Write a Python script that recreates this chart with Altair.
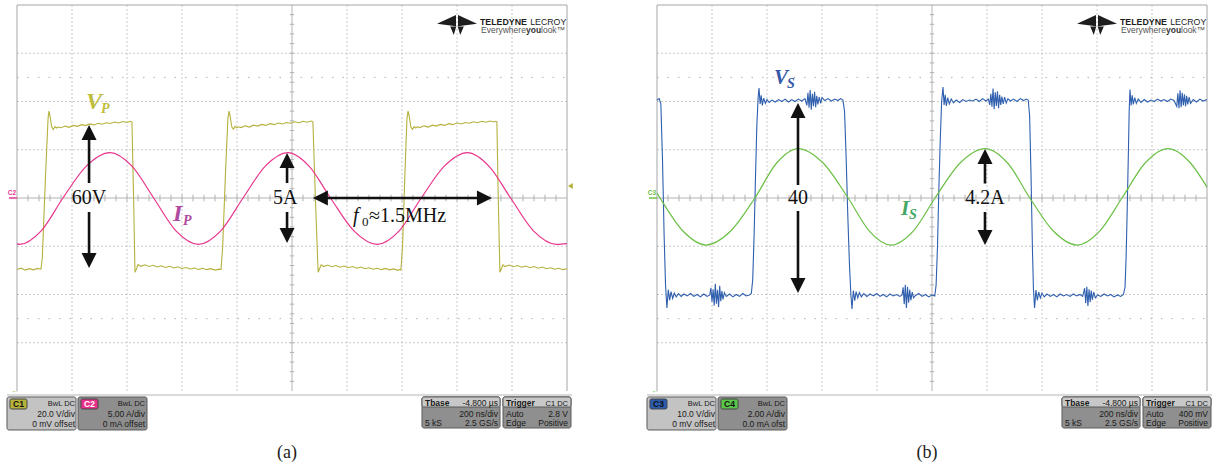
import altair as alt
import pandas as pd

# ---------------- waveform samples read from the two scope screens ----------------
# panel (a): time in ns from the left edge of the screen, V_P in volts
VP = [(0, -29.6), (15, -29.1), (30, -29.9), (45, -29.3), (60, -29.8), (75, -29.2), (87, -29.5),
      (92, -25), (104, 10), (113, 33), (116, 36), (120, 34), (126, 29.5), (132, 28.4), (138, 29.6),
      (144, 29.0), (150, 29.4),
      (160, 29.1), (175, 29.8), (190, 29.3), (205, 30.1), (220, 29.7), (235, 30.4), (250, 30.0),
      (265, 30.7), (280, 30.3), (295, 31.0), (310, 30.6), (325, 31.2), (340, 30.9), (355, 31.5),
      (370, 31.1), (385, 31.7), (400, 31.3), (412, 31.8),
      (418, 31.5), (424, 0), (429, -30.8), (434, -29.5), (440, -27.6),
      (450, -28.3), (465, -27.7), (480, -28.4), (495, -27.9), (510, -28.6), (525, -28.1),
      (540, -28.8), (555, -28.3), (570, -29.0), (585, -28.5), (600, -29.2), (615, -28.8),
      (630, -29.4), (645, -29.0), (660, -29.6), (675, -29.1), (690, -29.7), (705, -29.3),
      (720, -29.9), (735, -29.5),
      (742, -29.6), (748, -20), (758, 10), (767, 33), (771, 36), (775, 34), (781, 29.5),
      (787, 28.5), (793, 29.7), (799, 29.1), (805, 29.5),
      (815, 29.2), (830, 29.9), (845, 29.4), (860, 30.2), (875, 29.8), (890, 30.5), (905, 30.1),
      (920, 30.8), (935, 30.4), (950, 31.1), (965, 30.7), (980, 31.3), (995, 31.0), (1010, 31.6),
      (1025, 31.2), (1040, 31.8), (1055, 31.4), (1070, 31.9),
      (1076, 31.6), (1085, 0), (1095, -30.8), (1100, -29.4), (1106, -27.7),
      (1115, -28.4), (1130, -27.8), (1145, -28.5), (1160, -28.0), (1175, -28.7), (1190, -28.2),
      (1205, -28.9), (1220, -28.4), (1235, -29.1), (1250, -28.6), (1265, -29.3), (1280, -28.9),
      (1295, -29.5), (1310, -29.1), (1325, -29.7), (1340, -29.2), (1355, -29.8), (1370, -29.4),
      (1385, -30.0), (1392, -29.6),
      (1396, -29.8), (1402, -20), (1410, 8), (1418, 33), (1422, 36), (1426, 34), (1432, 29.5),
      (1438, 28.4), (1444, 29.6), (1450, 29.0), (1456, 29.5),
      (1465, 29.2), (1480, 29.9), (1495, 29.4), (1510, 30.2), (1525, 29.8), (1540, 30.5),
      (1555, 30.1), (1570, 30.8), (1585, 30.4), (1600, 31.1), (1615, 30.7), (1630, 31.3),
      (1645, 31.0), (1660, 31.6), (1675, 31.2), (1690, 31.8), (1705, 31.4), (1720, 31.9),
      (1735, 31.5), (1740, 31.8),
      (1745, 31.6), (1750, 0), (1756, -30.8), (1761, -29.4), (1767, -27.7),
      (1775, -28.4), (1790, -27.8), (1805, -28.5), (1820, -28.0), (1835, -28.7), (1850, -28.2),
      (1865, -28.9), (1880, -28.4), (1895, -29.1), (1910, -28.6), (1925, -29.3), (1940, -28.9),
      (1955, -29.5), (1970, -29.1), (1985, -29.7), (2000, -29.3)]

# panel (a): I_P in amperes
IP = [(0, -4.75), (10, -4.8), (88, -3.4), (167, 0), (252, 3.3), (338, 4.7), (418, 3.3), (497, 0),
      (578, -3.4), (660, -4.8), (741, -3.4), (822, 0), (903, 3.3), (985, 4.7), (1062, 3.3),
      (1140, 0), (1225, -3.4), (1310, -4.8), (1390, -3.4), (1470, 0), (1554, 3.3), (1638, 4.7),
      (1716, 3.3), (1795, 0), (1878, -3.4), (1962, -4.8), (2000, -4.72)]

# panel (b): V_S in volts
VS = [(0, 20.3), (8, 20.6), (14, 19.5), (20, 8), (26, -8), (31, -18), (36, -22.8), (41, -19.0),
      (46, -21.2), (51, -19.4), (57, -20.8), (63, -19.7), (70, -20.5), (78, -19.8), (88, -20.4),
      (98, -19.9), (110, -20.3), (122, -19.8), (134, -20.4), (146, -20.0), (158, -20.5),
      (170, -19.9), (182, -20.4), (192, -20.1),
      (196, -18.6), (200, -21.5), (204, -18.9), (208, -22.3), (212, -17.8), (216, -21.9),
      (220, -19.0), (224, -22.6), (228, -18.2), (232, -21.4), (236, -19.3), (240, -21.0),
      (245, -19.6),
      (252, -20.4), (264, -19.9), (276, -20.5), (288, -20.0), (300, -20.4), (312, -19.8),
      (324, -20.3), (336, -20.1), (343, -19.8),
      (348, -17), (353, -8), (358, 4), (363, 15), (368, 21), (371, 22.8), (375, 19.5), (379, 21.3),
      (383, 19.2), (388, 20.7), (394, 19.6), (400, 20.4), (408, 19.8), (418, 20.3), (430, 19.9),
      (442, 20.4), (454, 20.0), (466, 20.5), (478, 19.9), (490, 20.4), (502, 20.0), (514, 20.5),
      (526, 20.1), (538, 20.6),
      (545, 19.2), (549, 21.8), (553, 18.7), (557, 22.4), (561, 18.3), (565, 21.6), (569, 19.0),
      (573, 22.0), (577, 18.8), (581, 21.2), (585, 19.4), (590, 20.9), (595, 19.6), (600, 20.8),
      (610, 20.2), (622, 20.6), (634, 20.1), (646, 20.5), (658, 20.2), (668, 20.6), (676, 20.3),
      (682, 18), (688, 8), (694, -4), (700, -14), (705, -20), (709, -23), (714, -19.2),
      (719, -21.3), (724, -19.4), (730, -20.7), (736, -19.6), (743, -20.5), (752, -19.8),
      (763, -20.4), (775, -19.9), (787, -20.3), (799, -19.8), (811, -20.4), (823, -20.0),
      (835, -20.5), (847, -19.9), (859, -20.3), (871, -20.0), (883, -20.4), (891, -20.1),
      (895, -18.5), (899, -22.0), (903, -18.0), (907, -22.8), (911, -18.4), (915, -21.7),
      (919, -19.0), (923, -21.2), (928, -19.5), (933, -20.7),
      (940, -20.2), (952, -19.8), (964, -20.4), (976, -20.0), (988, -20.5), (1000, -20.1),
      (1010, -20.3),
      (1015, -18), (1020, -10), (1025, 2), (1030, 12), (1035, 20), (1040, 23), (1044, 19.3),
      (1048, 21.4), (1052, 19.1), (1057, 20.8), (1063, 19.5), (1070, 20.5), (1078, 19.7),
      (1088, 20.3), (1100, 19.8), (1112, 20.4), (1124, 20.0), (1136, 20.3), (1148, 20.1),
      (1160, 20.5), (1172, 20.0), (1184, 20.6), (1196, 20.1), (1205, 20.5),
      (1210, 19.3), (1214, 21.6), (1218, 18.9), (1222, 22.7), (1226, 18.4), (1230, 21.9),
      (1234, 19.1), (1238, 22.1), (1242, 18.6), (1246, 21.4), (1250, 19.3), (1254, 21.0),
      (1259, 19.5), (1264, 20.9), (1270, 19.7), (1276, 20.6),
      (1285, 20.1), (1297, 20.5), (1309, 20.0), (1321, 20.6), (1333, 20.2), (1343, 20.5),
      (1350, 20.3),
      (1355, 17), (1360, 5), (1365, -10), (1369, -19), (1373, -22.8), (1378, -19.1), (1383, -21.2),
      (1388, -19.5), (1394, -20.7), (1400, -19.7), (1408, -20.5), (1418, -19.9), (1430, -20.4),
      (1442, -20.0), (1454, -20.5), (1466, -19.9), (1478, -20.3), (1490, -20.0), (1502, -20.4),
      (1514, -19.9), (1526, -20.3), (1538, -20.0), (1548, -20.4),
      (1555, -18.7), (1559, -21.8), (1563, -18.4), (1567, -22.4), (1571, -18.9), (1575, -21.6),
      (1579, -19.2), (1583, -21.1), (1588, -19.5), (1594, -20.7),
      (1602, -20.1), (1614, -20.4), (1626, -19.9), (1638, -20.3), (1650, -20.0), (1662, -20.5),
      (1674, -20.1), (1686, -20.4), (1696, -20.0),
      (1702, -18.5), (1706, -12), (1710, -2), (1714, 9), (1717, 18), (1720, 22.5), (1724, 19.2),
      (1728, 21.3), (1732, 19.4), (1737, 20.8), (1743, 19.6), (1750, 20.5), (1760, 19.8),
      (1772, 20.4), (1784, 19.9), (1796, 20.3), (1808, 20.0), (1820, 20.5), (1832, 20.1),
      (1844, 20.4), (1856, 20.0), (1868, 20.5), (1880, 20.2),
      (1890, 19.0), (1894, 21.7), (1898, 18.6), (1902, 22.3), (1906, 18.8), (1910, 21.8),
      (1914, 19.2), (1918, 21.5), (1922, 19.0), (1926, 21.2), (1930, 19.4), (1935, 20.9),
      (1940, 19.6),
      (1950, 20.4), (1962, 19.9), (1974, 20.5), (1986, 20.1), (2000, 20.4)]

# panel (b): I_S in amperes
IS = [(0, 0.2), (11, 0), (95, -1.38), (178, -1.95), (267, -1.38), (356, 0), (435, 1.45),
      (513, 2.05), (604, 1.45), (695, 0), (773, -1.38), (851, -1.95), (931, -1.38), (1011, 0),
      (1102, 1.45), (1193, 2.05), (1275, 1.45), (1356, 0), (1442, -1.38), (1527, -1.95),
      (1609, -1.38), (1691, 0), (1775, 1.45), (1858, 2.05), (1940, 1.45), (2000, 0.45)]

# vertical sensitivities (per division) and the scope readouts
VDIV_A, IDIV_A = 20.0, 5.0
VDIV_B, IDIV_B = 10.0, 2.0
CH_A = [("C1", "BwL DC", "20.0 V/div", "0 mV offset"), ("C2", "BwL DC", "5.00 A/div", "0 mA offset")]
CH_B = [("C3", "BwL DC", "10.0 V/div", "0 mV offset"), ("C4", "BwL DC", "2.00 A/div", "0.0 mA ofst")]
TBASE = ["Tbase", "-4.800 µs", "200 ns/div", "5 kS", "2.5 GS/s"]
TRIG_A = ["Trigger", "C1 DC", "Auto", "2.8 V", "Edge", "Positive"]
TRIG_B = ["Trigger", "C1 DC", "Auto", "400 mV", "Edge", "Positive"]

# colours
C_VP, C_IP, C_VS, C_IS = "#b5b13c", "#e8358d", "#2f5fae", "#6cc046"
L_VP, L_IP, L_VS, L_IS = "#bfbd3d", "#b04aa0", "#3558a8", "#45a863"

# ---------------- layout (shared scales: ns horizontally, divisions vertically) ----------------
W, H = 1214, 469
NS_PER_PX = 200 / 55
PX_PER_DIV = 48.25
X_DOM = [-17 * NS_PER_PX, (W - 17) * NS_PER_PX]
Y_DOM = [(198 - H) / PX_PER_DIV, 198 / PX_PER_DIV]
B_OFF = 640 * NS_PER_PX  # screen (b) sits to the right of screen (a)

XS = alt.Scale(domain=X_DOM, nice=False, zero=False)
YS = alt.Scale(domain=Y_DOM, nice=False, zero=False)
SERIF = "Liberation Serif"
SANS = "Liberation Sans"


def X(f="t"):
    return alt.X(f, type="quantitative", scale=XS, axis=None)


def Y(f="y"):
    return alt.Y(f, type="quantitative", scale=YS, axis=None)


def rules(rows, color, width=1.0, dash=None):
    df = pd.DataFrame(rows, columns=["t", "y", "t2", "y2"])
    kw = dict(color=color, strokeWidth=width)
    if dash:
        kw["strokeDash"] = dash
    return alt.Chart(df).mark_rule(**kw).encode(x=X("t"), y=Y("y"), x2=alt.X2("t2"), y2=alt.Y2("y2"))


def rects(rows, stroke="#5a5a5a", radius=2):
    df = pd.DataFrame(rows, columns=["t", "t2", "y", "y2", "fill"])
    return alt.Chart(df).mark_rect(stroke=stroke, strokeWidth=1, cornerRadius=radius).encode(
        x=X("t"), x2=alt.X2("t2"), y=Y("y"), y2=alt.Y2("y2"),
        fill=alt.Fill("fill:N", scale=None, legend=None))


def texts(rows, size, color, font=SANS, weight="normal", style="normal", align="left",
          baseline="alphabetic"):
    df = pd.DataFrame(rows, columns=["t", "y", "text"])
    return alt.Chart(df).mark_text(fontSize=size, color=color, font=font, fontWeight=weight,
                                   fontStyle=style, align=align, baseline=baseline).encode(
        x=X(), y=Y(), text="text:N")


def points(rows, shape, size, color):
    df = pd.DataFrame(rows, columns=["t", "y"])
    return alt.Chart(df).mark_point(shape=shape, size=size, filled=True, color=color, opacity=1,
                                    strokeWidth=0).encode(x=X(), y=Y())


def trace(pairs, per_div, off, color, interp="linear", width=1.1):
    df = pd.DataFrame(pairs, columns=["t", "v"])
    df["t"] = df["t"] + off
    df["y"] = df["v"] / per_div
    return alt.Chart(df).mark_line(color=color, strokeWidth=width, interpolate=interp).encode(
        x=X(), y=Y())


layers = []

# ---------------- graticule ----------------
g_dash, g_solid, g_sparse, g_border, g_ticks, divider = [], [], [], [], [], []
for off in (0, B_OFF):
    for k in range(1, 10):
        if k != 5:
            g_dash.append((off + 200 * k, -4, off + 200 * k, 4))
    for j in (-3, -2, -1, 1, 2, 3):
        g_dash.append((off, j, off + 2000, j))
    g_sparse += [(off, 2.5, off + 2000, 2.5), (off, -2.5, off + 2000, -2.5)]
    g_solid += [(off + 1000, -4, off + 1000, 4), (off, 0, off + 2000, 0)]
    g_border += [(off, -4, off, 4), (off + 2000, -4, off + 2000, 4), (off, 4, off + 2000, 4)]
    for k in range(1, 50):
        g_ticks.append((off + 40 * k, -0.07, off + 40 * k, 0.07))
    for j in range(-19, 20):
        if j != 0:
            g_ticks.append((off + 1000 - 8, j * 0.2, off + 1000 + 8, j * 0.2))
    divider.append((off - 36.4, -4.083, off + 2018, -4.083))

layers += [
    rules(g_dash, "#c9c9c9", 1, [2, 2]),
    rules(g_sparse, "#b0b0b0", 1, [1.5, 9]),
    rules(g_solid, "#b3b3b3", 1),
    rules(g_ticks, "#b3b3b3", 1),
    rules(g_border, "#a6a6a6", 1),
    rules(divider, "#b5b5b5", 1),
]

# ---------------- readout boxes ----------------
box_rows, badge_rows = [], []
txt_right_small, txt_right, txt_left, txt_bold_left, badge_txt_dark, badge_txt_light = [], [], [], [], [], []
for off, chans, trig, badge_cols, txt_cols in (
        (0, CH_A, TRIG_A, ["#b7b23a", "#e8308a"], ["#111111", "#ffffff"]),
        (B_OFF, CH_B, TRIG_B, ["#2c5cae", "#5cc84a"], ["#0d1530", "#111111"])):
    box_rows += [(off - 36.4, off + 214.5, -4.124, -4.808, "#c3c3c3"),
                 (off + 221.8, off + 472.7, -4.124, -4.808, "#8e8e8e"),
                 (off + 1472.7, off + 1756.4, -4.124, -4.767, "#8f8f8f"),
                 (off + 1767.3, off + 2014.5, -4.124, -4.767, "#8f8f8f"),
                 (off + 1472.7, off + 1756.4, -4.124, -4.332, "#c8c8c8"),
                 (off + 1767.3, off + 2014.5, -4.124, -4.332, "#c8c8c8")]
    for (name, bw, sens, offs), x0, right, col, tcol in zip(
            chans, (-25.5, 232.7), (210.9, 465.5), badge_cols, txt_cols):
        badge_rows.append((off + x0, off + x0 + 61.9, -4.166, -4.373, col))
        row = (off + x0 + 30.9, -4.27, name)
        (badge_txt_light if tcol == "#ffffff" else badge_txt_dark).append(row)
        txt_right_small.append((off + right, -4.311, bw))
        txt_right += [(off + right, -4.539, sens), (off + right, -4.746, offs)]
    txt_bold_left += [(off + 1483.6, -4.311, TBASE[0]), (off + 1778.2, -4.311, trig[0])]
    txt_right += [(off + 1749.1, -4.311, TBASE[1]), (off + 1749.1, -4.539, TBASE[2]),
                  (off + 1749.1, -4.725, TBASE[4]), (off + 2003.6, -4.539, trig[3]),
                  (off + 2003.6, -4.725, trig[5])]
    txt_right_small.append((off + 2003.6, -4.311, trig[1]))
    txt_left += [(off + 1483.6, -4.725, TBASE[3]), (off + 1778.2, -4.539, trig[2]),
                 (off + 1778.2, -4.725, trig[4])]

layers += [
    rects(box_rows),
    rects(badge_rows, stroke="#444444", radius=1.5),
    texts(badge_txt_dark, 8.5, "#111111", weight="bold", align="center", baseline="middle"),
    texts(badge_txt_light, 8.5, "#ffffff", weight="bold", align="center", baseline="middle"),
    texts(txt_right_small, 7.5, "#1a1a1a", align="right"),
    texts(txt_right, 8.5, "#1a1a1a", align="right"),
    texts(txt_left, 8.5, "#1a1a1a", align="left"),
    texts(txt_bold_left, 8.5, "#1a1a1a", weight="bold", align="left"),
]

# ---------------- logo ----------------
LOGO = ("M-1,-0.06L-0.05,-0.5L-0.05,0.06Z"
        "M1,-0.06L0.05,-0.5L0.05,0.06Z"
        "M-0.34,0.08L-0.04,0.08L-0.16,0.5Z"
        "M0.34,0.08L0.04,0.08L0.16,0.5Z")
logo_pts, logo_bold, logo_reg, logo_s1, logo_s2, logo_s3 = [], [], [], [], [], []
for off in (0, B_OFF):
    logo_pts.append((off + 1600, 3.585))
    logo_bold.append((off + 1683.6, 3.585, "TELEDYNE"))
    logo_reg.append((off + 1866, 3.585, "LECROY"))
    logo_s1.append((off + 1687.3, 3.42, "Everywhere"))
    logo_s2.append((off + 1850.9, 3.42, "you"))
    logo_s3.append((off + 1905.5, 3.42, "look™"))
layers += [
    points(logo_pts, LOGO, 1600, "#1e1e1e"),
    texts(logo_bold, 8.8, "#1e1e1e", weight="bold", align="left"),
    texts(logo_reg, 8.8, "#1e1e1e", align="left"),
    texts(logo_s1, 8.5, "#555555", align="left"),
    texts(logo_s2, 8.5, "#333333", weight="bold", align="left"),
    texts(logo_s3, 8.5, "#555555", align="left"),
]

# ---------------- channel markers ----------------
layers += [
    rules([(-29.1, 0, 0, 0)], C_IP, 1.5),
    rules([(B_OFF - 29.1, 0, B_OFF, 0)], C_IS, 1.5),
    texts([(-3.6, 0.07, "C2")], 6.5, C_IP, weight="bold", align="right"),
    texts([(B_OFF - 3.6, 0.07, "C3")], 6.5, C_IS, weight="bold", align="right"),
    points([(2003.6, 0.249)], "M0,0L1.6,-1L1.6,1Z", 36, C_VP),
    texts([(-7.3, -4.0, "←")], 8, C_VP, align="center", baseline="middle"),
    texts([(B_OFF - 7.3, -4.0, "←")], 8, C_IS, align="center", baseline="middle"),
]

# ---------------- waveforms ----------------
layers += [
    trace(VP, VDIV_A, 0, C_VP, width=1.1),
    trace(IP, IDIV_A, 0, C_IP, interp="monotone", width=1.2),
    trace(VS, VDIV_B, B_OFF, C_VS, width=1.1),
    trace(IS, IDIV_B, B_OFF, C_IS, interp="monotone", width=1.2),
]

# ---------------- annotations ----------------
UP, DOWN = "M0,0L-1,2L1,2Z", "M0,0L-1,-2L1,-2Z"
LEFT, RIGHT = "M0,0L2,-1L2,1Z", "M0,0L-2,-1L-2,1Z"
shafts = [(262, 1.36, 262, 0.311), (262, -0.29, 262, -1.30),
          (982, 0.78, 982, 0.311), (982, -0.29, 982, -0.78),
          (1116, 0, 1687, 0),
          (B_OFF + 512.7, 1.82, B_OFF + 512.7, 0.269), (B_OFF + 512.7, -0.269, B_OFF + 512.7, -1.82),
          (B_OFF + 1192.7, 0.86, B_OFF + 1192.7, 0.30), (B_OFF + 1192.7, -0.29, B_OFF + 1192.7, -0.82)]
heads_up = [(262, 1.513), (982, 0.933), (B_OFF + 512.7, 1.969), (B_OFF + 1192.7, 1.016)]
heads_down = [(262, -1.451), (982, -0.933), (B_OFF + 512.7, -1.969), (B_OFF + 1192.7, -0.974)]
layers += [
    rules(shafts, "#111111", 2.6),
    points(heads_up, UP, 225, "#111111"),
    points(heads_down, DOWN, 225, "#111111"),
    points([(1076, 0)], LEFT, 225, "#111111"),
    points([(1727, 0)], RIGHT, 225, "#111111"),
    texts([(262, 0, "60V"), (975, 0, "5A"), (B_OFF + 512.7, 0, "40"), (B_OFF + 1192.7, 0, "4.2A")],
          20, "#111111", font=SERIF, align="center", baseline="middle"),
    texts([(1221.8, -0.497, "f")], 20, "#111111", font=SERIF, style="italic"),
    texts([(1254.5, -0.58, "0")], 13, "#111111", font=SERIF),
    texts([(1280, -0.497, "≈1.5MHz")], 20, "#111111", font=SERIF),
    texts([(251, 1.845, "V")], 24, L_VP, font=SERIF, weight="bold", style="italic"),
    texts([(305, 1.762, "P")], 14, L_VP, font=SERIF, weight="bold", style="italic"),
    texts([(567.3, -0.477, "I")], 24, L_IP, font=SERIF, weight="bold", style="italic"),
    texts([(603.6, -0.56, "P")], 14, L_IP, font=SERIF, weight="bold", style="italic"),
    texts([(B_OFF + 425.5, 2.363, "V")], 21, L_VS, font=SERIF, weight="bold", style="italic"),
    texts([(B_OFF + 472.7, 2.28, "S")], 14, L_VS, font=SERIF, weight="bold", style="italic"),
    texts([(B_OFF + 887.3, -0.352, "I")], 21, L_IS, font=SERIF, weight="bold", style="italic"),
    texts([(B_OFF + 916.4, -0.435, "S")], 14, L_IS, font=SERIF, weight="bold", style="italic"),
    texts([(982, -5.285, "(a)"), (B_OFF + 982, -5.285, "(b)")], 18, "#222222", font=SERIF,
          align="center", baseline="middle"),
]

chart = alt.layer(*layers).properties(
    width=W, height=H, padding=0, autosize=alt.AutoSizeParams(type="none"),
    background="#ffffff",
).configure_view(stroke=None)

chart.save("out.html", embed_options={"renderer": "svg", "actions": False})
